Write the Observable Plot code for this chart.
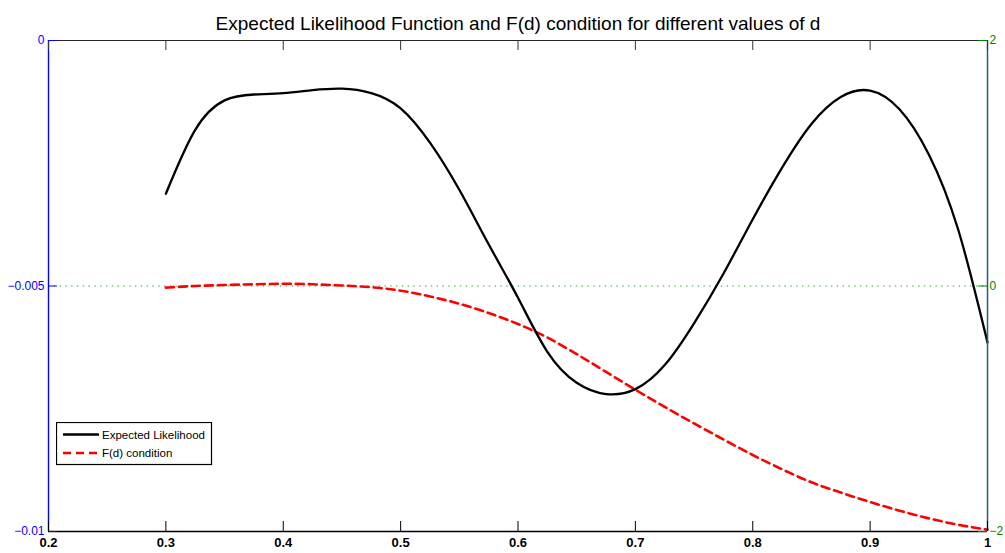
<!DOCTYPE html>
<html>
<head>
<meta charset="utf-8">
<script src="https://cdn.jsdelivr.net/npm/d3@7"></script>
<script src="https://cdn.jsdelivr.net/npm/@observablehq/plot@0.6"></script>
<style>
  html, body { margin: 0; padding: 0; background: #fff; }
  #chart { position: relative; width: 1005px; height: 553px; font-family: "Liberation Sans", Arial, sans-serif; }
  #legend { position: absolute; left: 56px; top: 422px; }
</style>
</head>
<body>
<div id="chart"></div>
<script>
// Values of d at which both quantities were evaluated
const d = [0.300, 0.325, 0.350, 0.375, 0.400, 0.425, 0.450, 0.475, 0.500, 0.525,
           0.550, 0.575, 0.600, 0.625, 0.650, 0.675, 0.700, 0.725, 0.750, 0.775,
           0.800, 0.825, 0.850, 0.875, 0.900, 0.925, 0.950, 0.975, 1.000];

// Expected likelihood (left axis)
const likelihood = [-0.00312, -0.00182, -0.00122, -0.00110, -0.00107, -0.00101, -0.00098, -0.00107, -0.00138, -0.00208,
                    -0.00304, -0.00415, -0.00524, -0.00634, -0.00697, -0.00720, -0.00710, -0.00661, -0.00576, -0.00475,
                    -0.00364, -0.00259, -0.00170, -0.00115, -0.00102, -0.00140, -0.00232, -0.00385, -0.00615];

// F(d) condition (right axis)
const fCondition = [-0.013, 0.000, 0.008, 0.014, 0.018, 0.014, 0.004, -0.010, -0.038, -0.085,
                    -0.145, -0.220, -0.310, -0.420, -0.555, -0.700, -0.845, -0.985, -1.120, -1.250,
                    -1.377, -1.493, -1.599, -1.683, -1.760, -1.830, -1.893, -1.945, -1.985];

// Axis domains and ticks
const xDomain = [0.2, 1];
const leftDomain = [-0.01, 0];
const rightDomain = [-2, 2];
const xTicks = [0.2, 0.3, 0.4, 0.5, 0.6, 0.7, 0.8, 0.9, 1];
const leftTicks = [-0.01, -0.005, 0];
const rightTicks = [-2, 0, 2];
const zeroLevel = [0];

const titleText = "Expected Likelihood Function and F(d) condition for different values of d";
const seriesNames = ["Expected Likelihood", "F(d) condition"];

// The right axis shares the plot's y scale through a linear remapping
const toLeft = v => leftDomain[0] + (v - rightDomain[0]) / (rightDomain[1] - rightDomain[0]) * (leftDomain[1] - leftDomain[0]);
const toRight = v => rightDomain[0] + (v - leftDomain[0]) / (leftDomain[1] - leftDomain[0]) * (rightDomain[1] - rightDomain[0]);
const fmt = d3.format("~g");

const rows = d.map((x, i) => ({d: x, likelihood: likelihood[i], fLeft: toLeft(fCondition[i])}));

const W = 1005, H = 553;
const mL = 48, mR = 18, mT = 40, mB = 22;
const innerW = W - mL - mR, innerH = H - mT - mB;
const tickLen = 10, yTickLen = 9;

const blue = "#0000ff", green = "#008000", rightEdge = "#1d6080";
const redDash = "8,5";

const chart = Plot.plot({
  width: W, height: H,
  marginLeft: mL, marginRight: mR, marginTop: mT, marginBottom: mB,
  style: {fontFamily: "'Liberation Sans', Arial, sans-serif", background: "#fff", overflow: "visible"},
  x: {domain: xDomain, label: null},
  y: {domain: leftDomain, label: null},
  marks: [
    // zero level of the F(d) condition
    Plot.ruleY(zeroLevel, {y: v => toLeft(v), stroke: "#2fa52f", strokeWidth: 1.2, strokeDasharray: "1.4,4.4"}),
    Plot.line(rows, {x: "d", y: "fLeft", stroke: "#ff0000", strokeWidth: 2.6, strokeDasharray: redDash, curve: "natural"}),
    Plot.line(rows, {x: "d", y: "likelihood", stroke: "#000", strokeWidth: 2.3, curve: "natural"}),
    // box edges
    Plot.ruleY([leftDomain[1]], {stroke: "#262626", strokeWidth: 1.2}),
    Plot.ruleY([leftDomain[0]], {stroke: "#000", strokeWidth: 1.5}),
    Plot.ruleX([xDomain[0]], {stroke: blue, strokeWidth: 1.4}),
    Plot.ruleX([xDomain[1]], {stroke: rightEdge, strokeWidth: 1.5}),
    // inward tick marks
    Plot.ruleX(xTicks, {stroke: "#000", strokeWidth: 1, insetTop: innerH - tickLen}),
    Plot.ruleX(xTicks, {stroke: "#333", strokeWidth: 1, insetBottom: innerH - tickLen}),
    Plot.ruleY(leftTicks, {stroke: blue, strokeWidth: 1, insetRight: innerW - yTickLen}),
    Plot.ruleY(rightTicks.map(toLeft), {stroke: green, strokeWidth: 1, insetLeft: innerW - yTickLen}),
    // tick labels
    Plot.axisX(xTicks, {anchor: "bottom", label: null, tickSize: 0, tickPadding: 6, tickFormat: fmt, fontSize: 13, fontWeight: "bold", fill: "#000"}),
    Plot.axisY(leftTicks, {anchor: "left", label: null, tickSize: 0, tickPadding: 4, tickFormat: fmt, fontSize: 12, fill: blue}),
    Plot.axisY(rightTicks.map(toLeft), {anchor: "right", label: null, tickSize: 0, tickPadding: 2, tickFormat: v => fmt(Math.round(toRight(v) * 1e6) / 1e6), fontSize: 12, fill: green}),
    // title
    Plot.text([titleText], {frameAnchor: "top", text: t => t, dy: -11, lineAnchor: "bottom", fontSize: 19, fill: "#000"})
  ]
});

const host = document.getElementById("chart");
host.appendChild(chart);

// Legend box in the lower-left corner of the axes
const legendStyles = [
  {stroke: "#000", width: 2.3, dash: null},
  {stroke: "#ff0000", width: 2.6, dash: redDash}
];
const lg = d3.select(host).append("svg")
  .attr("id", "legend").attr("width", 157).attr("height", 44);
lg.append("rect").attr("x", 0.5).attr("y", 0.5).attr("width", 155).attr("height", 42)
  .attr("fill", "#fff").attr("stroke", "#000").attr("stroke-width", 1.2);
seriesNames.forEach((name, i) => {
  const y = 12.5 + i * 18.5;
  lg.append("line").attr("x1", 7).attr("x2", 43).attr("y1", y).attr("y2", y)
    .attr("stroke", legendStyles[i].stroke).attr("stroke-width", legendStyles[i].width)
    .attr("stroke-dasharray", legendStyles[i].dash);
  lg.append("text").attr("x", 46).attr("y", y).attr("dy", "0.35em")
    .attr("font-size", 11.5).attr("font-family", "'Liberation Sans', Arial, sans-serif")
    .attr("fill", "#000").text(name);
});
</script>
</body>
</html>
